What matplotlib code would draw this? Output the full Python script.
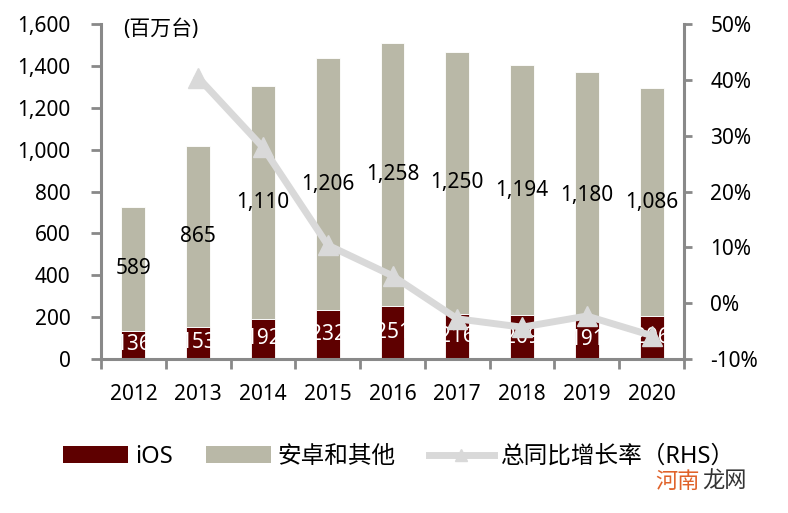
import matplotlib.pyplot as plt
from matplotlib.patches import Patch
from matplotlib.lines import Line2D

plt.rcParams['font.family'] = ['Noto Sans', 'Noto Sans CJK SC', 'DejaVu Sans']

# data (百万台)
years = ['2012', '2013', '2014', '2015', '2016', '2017', '2018', '2019', '2020']
ios = [136, 153, 192, 232, 251, 216, 209, 191, 206]
android = [589, 865, 1110, 1206, 1258, 1250, 1194, 1180, 1086]
# total YoY growth (%), 2012 has no value
growth = [None, 40.4, 27.9, 10.4, 4.9, -2.8, -4.3, -2.3, -5.8]

c_ios = '#5e0000'
c_and = '#b9b8a7'
c_line = '#d9d9d9'
c_axis = '#898989'

fig = plt.figure(figsize=(7.88, 5.13), dpi=100)
ax = fig.add_axes([101 / 788, 1 - 359 / 513, 583 / 788, 335 / 513])
ax2 = ax.twinx()

x = list(range(len(years)))
w = 0.37
b1 = ax.bar(x, ios, width=w, color=c_ios, edgecolor='white', linewidth=0.6)
b2 = ax.bar(x, android, width=w, bottom=ios, color=c_and, edgecolor='white', linewidth=0.6)
ax.bar_label(b1, labels=[str(v) for v in ios], label_type='center', color='white', fontsize=15)
ax.bar_label(b2, labels=[f'{v:,}' for v in android], label_type='center', color='black', fontsize=15)

gx = [i for i, g in zip(x, growth) if g is not None]
gy = [g for g in growth if g is not None]
ax2.plot(gx, gy, color=c_line, linewidth=5, marker='^', markersize=15,
         markerfacecolor=c_line, markeredgecolor=c_line)

ax.set_xlim(-0.5, 8.5)
ax.set_ylim(0, 1600)
ax.set_yticks(range(0, 1601, 200))
ax.set_yticklabels([f'{v:,}' for v in range(0, 1601, 200)])
ax2.set_ylim(-10, 50)
ax2.set_yticks(range(-10, 51, 10))
ax2.set_yticklabels([f'{v}%' for v in range(-10, 51, 10)])

ax.set_xticks(x)
ax.set_xticklabels(years)
ax.set_xticks([i - 0.5 for i in range(len(years) + 1)], minor=True)
ax.tick_params(axis='x', which='major', length=0, pad=18, labelsize=15)
ax.tick_params(axis='x', which='minor', length=7, width=2, color=c_axis, direction='out')
ax.tick_params(axis='y', length=7, width=2, color=c_axis, pad=15, labelsize=15)
ax2.tick_params(axis='y', length=6, width=2, color=c_axis, pad=13, labelsize=15)

for a in (ax, ax2):
    for s in a.spines.values():
        s.set_visible(False)
ax.spines['left'].set_visible(True)
ax.spines['bottom'].set_visible(True)
ax2.spines['right'].set_visible(True)
for s in (ax.spines['left'], ax.spines['bottom'], ax2.spines['right']):
    s.set_color(c_axis)
    s.set_linewidth(2.2)

fig.text(123 / 788, 1 - 30 / 513, '(百万台)', fontsize=15, va='center', ha='left')

handles = [Patch(facecolor=c_ios), Patch(facecolor=c_and),
           Line2D([0], [0], color=c_line, linewidth=5, marker='^', markersize=9,
                  markerfacecolor=c_line, markeredgecolor=c_line)]
fig.legend(handles, ['iOS', '安卓和其他', '总同比增长率（RHS）'], loc='center',
           bbox_to_anchor=(399 / 788, 1 - 457 / 513), ncol=3, frameon=False,
           fontsize=17, handlelength=2.75, handleheight=0.7, handletextpad=0.3,
           columnspacing=1.4)

# watermark
fig.text(655 / 788, 1 - 482 / 513, '河南', color='#e0622a', fontsize=16, va='center', ha='left')
fig.text(702 / 788, 1 - 482 / 513, '龙网', color='#333333', fontsize=16, va='center', ha='left')

plt.savefig('out.png', dpi=100)
